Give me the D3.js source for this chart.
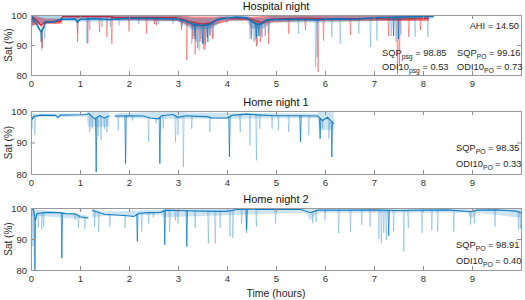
<!DOCTYPE html>
<html>
<head>
<meta charset="utf-8">
<script src="https://cdn.jsdelivr.net/npm/d3@7"></script>
<style>
  body { margin: 0; background: #fff; }
  svg { display: block; font-family: "Liberation Sans", Arial, sans-serif; }
  .tick text { fill: #333; font-size: 9.5px; }
  .ann { fill: #262626; font-size: 9.3px; }
</style>
</head>
<body>
<svg id="chart" width="525" height="300"></svg>
<script>
// ---- data (hours, SpO2 %) ----
var xTicks = [0, 1, 2, 3, 4, 5, 6, 7, 8, 9];
var yTicks = [80, 90, 100];
var panelTitles = ['Hospital night', 'Home night 1', 'Home night 2'];

// Hospital night, pulse oximeter (blue)
var hospPoTrend = [[0,99.6],[0.04,99],[0.08,97.8],[0.13,96.5],[0.18,95],[0.21,94.5],[0.25,95.5],[0.3,97.8],[0.45,97.6],
  [0.6,98.6],[0.9,98.7],[0.95,97.6],[1.0,98.6],[1.3,98.8],[1.6,98.5],[1.9,98.8],[2.2,98.9],[2.6,98.8],[3.0,98.6],
  [3.15,98],[3.3,97],[3.5,96.5],[3.65,97],[3.8,98.5],[4.0,99],[4.2,99.3],[4.4,99.1],
  [4.5,98],[4.6,97],[4.7,97],[4.8,98.3],[5.0,98.5],[5.4,98.6],[5.8,98.4],[6.2,98.7],[6.6,98.6],
  [7.0,99.1],[7.5,99.3],[8.0,99.5],[8.22,99.6]];
var hospPoNoise = [[0,97.5,100],[0.3,97,100],[0.6,98,99.8],[1.0,97.8,99.8],[2.0,98,99.8],[3.0,97.8,99.8],[3.3,95,99],
  [3.7,95.5,99],[3.9,98,99.8],[4.4,98.2,100],[4.5,95.5,99],[4.75,95.5,99],[4.9,97.5,99.8],[6.0,97.5,99.8],[7.0,98,100],[8.22,98.8,100]];
var hospPoDips = [[0.02,96],[0.22,88.2],[0.28,92],[0.5,97],[0.63,97],[0.95,94],[1.14,90.5],[1.2,95],[1.45,96],[1.62,96],
  [1.8,96.5],[2.2,97],[2.6,97],[2.9,97],[3.08,96],[3.28,90.4],[3.32,93],[3.38,91],[3.43,88.2],[3.47,92],[3.52,88.4],
  [3.56,90],[3.62,91],[3.66,93.5],[3.72,92.5],[4.0,97.2],[4.47,92],[4.5,93],[4.55,91],[4.58,91.5],[4.62,90],[4.7,93],
  [4.72,92.5],[4.85,94],[5.46,93.8],[5.81,82.7],[5.84,86],[6.14,92.7],[6.31,90.4],[6.69,93.8],
  [6.93,89.3],[7.06,91.5],[7.35,93],[7.45,91],[7.55,93.5],[7.84,92.7],[8.1,92.7]];
var hospPoStrong = [[0.21,91],[3.35,92],[3.5,90.5],[3.6,92.5],[4.6,92.5],[4.65,93],[7.4,93],[7.5,92]];

// Hospital night, polysomnography (red)
var hospPsgTrend = [[0,99.5],[0.1,98.5],[0.2,96.5],[0.3,97.8],[0.6,97.8],[0.65,99.5],[1.6,99.5],[1.7,99.2],[3.0,99.1],
  [3.2,98],[3.5,97],[3.7,97.5],[3.9,99],[4.1,98.8],[4.5,98.6],[4.7,97.5],[4.9,98.6],[5.5,99],
  [6.0,98.8],[6.5,98.8],[7.0,98.8],[7.5,98.6],[8.0,98.8],[8.12,98.9]];
var hospPsgNoise = [[0,96.5,100],[0.3,97,98.8],[0.6,97,98.8],[0.65,99,100],[1.6,99,100],[1.7,98.3,100],[3.0,98,100],
  [3.3,96,99.5],[3.7,96.5,99.5],[4.1,98.2,99.4],[4.45,98.2,99.4],[4.6,96.5,99.5],[4.9,97.5,100],[5.5,98,100],[8.12,98,100]];
var hospPsgDips = [[0.05,96.5],[0.23,89],[0.95,91],[1.16,90.5],[1.4,94.3],[1.55,92.7],[1.65,90.4],[2.0,94.5],[2.36,93.8],
  [2.52,97],[2.56,96.5],[3.07,95],[3.18,84.9],[3.3,92],[3.35,86.9],[3.4,89],[3.45,91],[3.52,90.4],[3.55,88.5],[3.6,91],
  [3.65,93],[3.7,92],[4.5,92],[4.6,89.5],[4.68,91],[4.78,93],[4.85,90.4],[5.26,93.8],[5.6,95],
  [5.86,81],[5.97,91.5],[6.52,93.3],[7.3,93],[7.48,80.3],[7.52,83],[7.71,92.7],[7.95,95]];

// Home night 1
var home1Trend = [[0,98.4],[0.03,97.5],[0.06,98.3],[0.2,98.7],[0.5,98.6],[0.55,97.9],[0.6,98.7],[1.0,98.8],[1.14,98.9],
  [1.18,99.2],[1.3,97.5],[1.4,98.5],[1.5,97.8],[1.6,98.5],[1.61,null],[1.71,98.4],[2.0,98.5],[2.3,98.4],[2.43,97.8],
  [2.6,97.5],[2.66,98.5],[2.9,98.9],[3.0,98],[3.15,98.5],[3.4,98.3],[3.6,98.2],[3.7,97.8],[4.0,97.8],[4.1,98.6],
  [4.4,99],[4.7,98.7],[5.0,98.5],[5.5,98.5],[5.85,98.4],[5.95,97],[6.05,98],[6.18,96]];
var home1Noise = [[0,97,99.5],[0.1,98,99.2],[1.14,98.2,99.3],[1.16,95,100],[1.6,95,100],[1.61,null,null],[1.71,97.8,99.2],
  [2.9,97.5,100],[3.2,97.5,99.5],[5.85,97.8,99.2],[5.88,94,100],[6.18,94,100]];
var home1Dips = [[0.02,94.4],[0.08,92.3],[1.2,93.3],[1.25,94.4],[1.37,92],[1.43,90.7],[1.5,94.4],[1.55,93.3],[1.78,93.9],
  [2.07,97],[2.4,90.2],[2.55,96],[2.7,94.4],[2.95,90.2],[3.0,92.3],[3.11,82.2],[3.28,94.4],[3.65,93.3],[4.27,93.3],
  [4.47,89.1],[4.6,84.3],[4.67,94.4],[4.92,94.4],[5.05,93.9],[5.26,93.3],[5.67,92.3],[5.95,94.4],[6.08,91.2]];
var home1Strong = [[1.33,80.6],[1.93,83.3],[2.63,83.3],[4.05,85.4],[5.5,90.2],[5.9,91.2],[6.14,85.4]];

// Home night 2
var home2Trend = [[0,99.8],[0.05,99.5],[0.09,96],[0.12,98.2],[0.3,98.6],[0.6,98.5],[0.7,98.2],[0.9,98.1],[1.0,97.2],
  [1.17,96.8],[1.18,null],[1.25,99.3],[1.4,98.5],[1.5,98],[1.9,97.6],[2.1,97.3],[2.2,98.3],[2.4,98.5],[2.65,98.6],
  [2.75,99.3],[3.0,99.2],[3.5,99],[4.0,98.9],[4.2,99.5],[4.7,99.6],[5.0,99.5],[5.5,99.6],[5.7,98.5],[5.85,99.3],
  [6.5,99.3],[7.0,99.4],[7.5,99.2],[8.0,99.3],[8.5,99.4],[9.0,98.8],[9.1,99.3],[9.5,99.4],[9.9,99],[10,98.5]];
var home2Noise = [[0,97,100],[0.12,97.5,99.5],[1.0,96.5,98],[1.17,96.5,97.5],[1.18,null,null],[1.25,97,100],
  [1.45,97.3,98.8],[2.65,97.8,99.5],[2.7,97,100],[5.6,98.5,100],[5.7,96,99.8],[5.85,98.5,100],[8.9,98.5,100],
  [9.0,96.5,100],[9.1,98.5,100],[9.9,97,100],[10,97,100]];
var home2Dips = [[0.04,87.6],[0.15,93.7],[0.22,93],[0.26,94],[0.9,96],[0.97,93.5],[1.1,93.3],[1.3,94],[1.38,92.4],
  [1.61,94],[1.92,93.5],[2.26,92.4],[2.4,95],[2.5,97],[2.83,92.4],[2.95,96],[3.0,95],[3.35,93.5],[3.62,88.6],
  [3.76,88.6],[3.86,93.5],[4.06,90.8],[4.12,90.3],[4.3,95],[4.4,91.9],[4.6,94],[4.99,95],[5.75,95.1],[5.82,95.5],
  [6.0,96],[6.28,91.9],[6.52,92.4],[6.75,94.6],[6.92,94],[7.1,90],[7.15,88.6],[7.2,92],[7.25,89.7],[7.4,92.5],
  [7.61,86],[7.7,93.5],[7.98,91.9],[8.18,92.9],[8.3,92.4],[8.63,92.4],[8.97,94.6],[9.05,95],[9.47,94],[9.95,93],[9.99,93.5]];
var home2Strong = [[0.08,79.5],[0.63,83.8],[2.17,89.2],[2.73,88.1],[3.18,87.6],[4.4,93],[7.3,91]];

// annotation texts: [main, subscript, rest]
var hospStatsPsg = [['SQP', 'psg', ' = 98.85'], ['ODI10', 'psg', ' = 0.53']];
var hospStatsPo = [['SQP', 'PO', ' = 99.16'], ['ODI10', 'PO', ' = 0.73']];
var home1Stats = [['SQP', 'PO', ' = 98.35'], ['ODI10', 'PO', ' = 0.33']];
var home2Stats = [['SQP', 'PO', ' = 98.91'], ['ODI10', 'PO', ' = 0.40']];
var ahiText = 'AHI = 14.50';

// ---- layout ----
var BLUE = '#0072BD', RED = '#FF0000';
var left = 31, plotW = 490;
var panels = [
  { top: 15, h: 60, rowGap: 14, statY: 41, traces: [
      { trend: hospPsgTrend, noise: hospPsgNoise, dips: hospPsgDips, strong: [], color: RED, op: 0.45, noiseOp: 0.45, lw: 1.2 },
      { trend: hospPoTrend, noise: hospPoNoise, dips: hospPoDips, strong: hospPoStrong, color: BLUE, op: 0.35, noiseOp: 0.3, lw: 1.6 }],
    stats: [{ x: 382, rows: hospStatsPsg }, { x: 457, rows: hospStatsPo }], ahi: ahiText },
  { top: 111, h: 63, rowGap: 16, statY: 40, traces: [
      { trend: home1Trend, noise: home1Noise, dips: home1Dips, strong: home1Strong, color: BLUE, op: 0.35, noiseOp: 0.19, lw: 1.1 }],
    stats: [{ x: 456, rows: home1Stats }] },
  { top: 208, h: 62, rowGap: 16, statY: 40, traces: [
      { trend: home2Trend, noise: home2Noise, dips: home2Dips, strong: home2Strong, color: BLUE, op: 0.35, noiseOp: 0.19, lw: 1.1 }],
    stats: [{ x: 456, rows: home2Stats }] }
];

var svg = d3.select('#chart');
var x = d3.scaleLinear().domain([0, 10]).range([0, plotW]);

// trend value at time t (where a spike leaves the trace)
function baseAt(trend, t) {
  var pts = trend.filter(function(d) { return d[1] != null; });
  var i = d3.bisector(function(d) { return d[0]; }).left(pts, t);
  if (i <= 0) return pts[0][1];
  if (i >= pts.length) return pts[pts.length - 1][1];
  var a = pts[i - 1], b = pts[i];
  return a[1] + (b[1] - a[1]) * (t - a[0]) / (b[0] - a[0]);
}

panels.forEach(function(p, pi) {
  var y = d3.scaleLinear().domain([80, 100]).range([p.h, 0]);
  var g = svg.append('g').attr('transform', 'translate(' + left + ',' + p.top + ')');

  g.append('clipPath').attr('id', 'clip' + pi)
    .append('rect').attr('x', 0).attr('y', -1).attr('width', plotW).attr('height', p.h + 1);
  var canvas = g.append('g').attr('clip-path', 'url(#clip' + pi + ')');

  p.traces.forEach(function(tr) {
    var area = d3.area().defined(function(d) { return d[1] != null; })
      .x(function(d) { return x(d[0]); }).y0(function(d) { return y(d[1]); }).y1(function(d) { return y(d[2]); });
    canvas.append('path').datum(tr.noise).attr('d', area)
      .attr('fill', tr.color).attr('fill-opacity', tr.noiseOp);

    function spike(d) {
      var b = y(baseAt(tr.trend, d[0])), px = x(d[0]);
      return 'M' + (px - 0.7) + ',' + b + 'L' + px + ',' + y(d[1]) + 'L' + (px + 0.7) + ',' + b;
    }
    canvas.append('g').selectAll('path').data(tr.dips).join('path')
      .attr('d', spike).attr('fill', 'none').attr('stroke', tr.color)
      .attr('stroke-opacity', tr.op).attr('stroke-width', 0.8);
    canvas.append('g').selectAll('path').data(tr.strong).join('path')
      .attr('d', spike).attr('fill', 'none').attr('stroke', tr.color)
      .attr('stroke-opacity', 0.8).attr('stroke-width', 0.9);

    var line = d3.line().defined(function(d) { return d[1] != null; })
      .x(function(d) { return x(d[0]); }).y(function(d) { return y(d[1]); });
    canvas.append('path').datum(tr.trend).attr('d', line)
      .attr('fill', 'none').attr('stroke', tr.color).attr('stroke-width', tr.lw).attr('stroke-opacity', 0.9);
  });

  // axes: MATLAB-style box with inward ticks on all sides
  var gx = g.append('g').attr('transform', 'translate(0,' + p.h + ')')
    .call(d3.axisBottom(x).tickValues(xTicks).tickFormat(d3.format('d')).tickSize(-4).tickPadding(5));
  var gt = g.append('g').call(d3.axisTop(x).tickValues(xTicks).tickFormat('').tickSize(-4));
  var gy = g.append('g')
    .call(d3.axisLeft(y).tickValues(yTicks).tickSize(-4).tickPadding(4));
  var gr = g.append('g').attr('transform', 'translate(' + plotW + ',0)')
    .call(d3.axisRight(y).tickValues(yTicks).tickFormat('').tickSize(-4));
  [gx, gt, gy, gr].forEach(function(a) {
    a.attr('font-family', null).attr('font-size', null);
    a.select('.domain').remove();
    a.selectAll('.tick line').attr('stroke', '#8f8f8f');
  });
  g.append('rect').attr('width', plotW).attr('height', p.h)
    .attr('fill', 'none').attr('stroke', '#9a9a9a').attr('stroke-width', 1).attr('shape-rendering', 'crispEdges');

  g.append('text').attr('x', plotW / 2).attr('y', -5).attr('text-anchor', 'middle')
    .attr('font-size', 11).attr('fill', '#111').text(panelTitles[pi]);
  g.append('text').attr('transform', 'translate(' + (8 - left) + ',' + (p.h / 2) + ') rotate(-90)')
    .attr('text-anchor', 'middle').attr('dy', '0.35em').attr('font-size', 10).attr('fill', '#262626').text('Sat (%)');

  p.stats.forEach(function(s) {
    s.rows.forEach(function(r, ri) {
      var t = g.append('text').attr('class', 'ann')
        .attr('x', s.x - left).attr('y', p.statY + ri * p.rowGap);
      t.append('tspan').text(r[0]);
      t.append('tspan').attr('dy', 3).attr('font-size', 6.8).text(r[1]);
      t.append('tspan').attr('dy', -3).text(r[2]);
    });
  });
  if (p.ahi) {
    g.append('text').attr('class', 'ann').attr('x', plotW - 2).attr('y', 14)
      .attr('text-anchor', 'end').text(p.ahi);
  }
});

svg.append('text').attr('x', left + plotW / 2).attr('y', 297).attr('text-anchor', 'middle')
  .attr('font-size', 10.5).attr('fill', '#262626').text('Time (hours)');
</script>
</body>
</html>
